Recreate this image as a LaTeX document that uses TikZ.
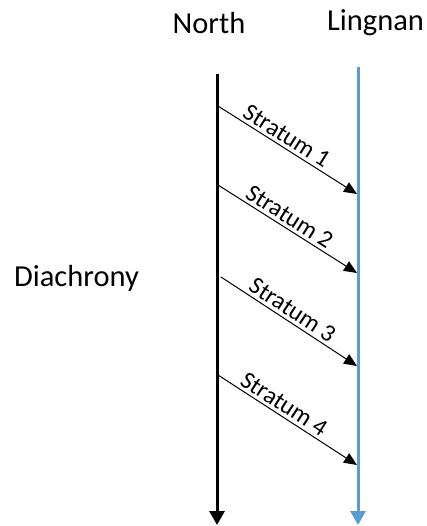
\documentclass[tikz,border=0pt]{standalone}
\usepackage{fontspec}
\setmainfont{Carlito}
\usetikzlibrary{arrows.meta}
\definecolor{lnblue}{RGB}{91,155,213}
\begin{document}
\begin{tikzpicture}[x=1pt,y=-1pt,
  big/.style={font=\fontsize{30.5}{36}\selectfont, inner sep=0pt, anchor=base},
  strat/.style={font=\fontsize{24.5}{28}\selectfont, sloped, above, inner sep=3pt},
  thinarrow/.style={line width=1pt, -{Triangle[length=13pt,width=11pt]}},
  axis/.style={line width=3pt, -{Triangle[length=14pt,width=15pt]}}]
\useasboundingbox (0,0) rectangle (427,526);
\node[big] (north) at (209,34) {North};
\node[big] (lingnan) at (375.5,31) {Lingnan};
\node[big] (diachrony) at (76.5,286) {Diachrony};
\coordinate (ntop) at (217,74);
\coordinate (nbot) at (217,525);
\coordinate (ltop) at (358,67);
\coordinate (lbot) at (358,525);
\draw[axis] (ntop) -- (nbot);
\draw[axis, draw=lnblue, fill=lnblue, lnblue] (ltop) -- (lbot);
\coordinate (s1a) at (218,106);
\coordinate (s1b) at (357,194);
\coordinate (s2a) at (218,185);
\coordinate (s2b) at (357,273);
\coordinate (s3a) at (221,277);
\coordinate (s3b) at (357,366);
\coordinate (s4a) at (218,375);
\coordinate (s4b) at (357,465);
\draw[thinarrow] (s1a) -- node[strat, pos=0.45] (t1) {Stratum 1} (s1b);
\draw[thinarrow] (s2a) -- node[strat, pos=0.47] (t2) {Stratum 2} (s2b);
\draw[thinarrow] (s3a) -- node[strat, pos=0.48] (t3) {Stratum 3} (s3b);
\draw[thinarrow] (s4a) -- node[strat, pos=0.43] (t4) {Stratum 4} (s4b);
\end{tikzpicture}
\end{document}
